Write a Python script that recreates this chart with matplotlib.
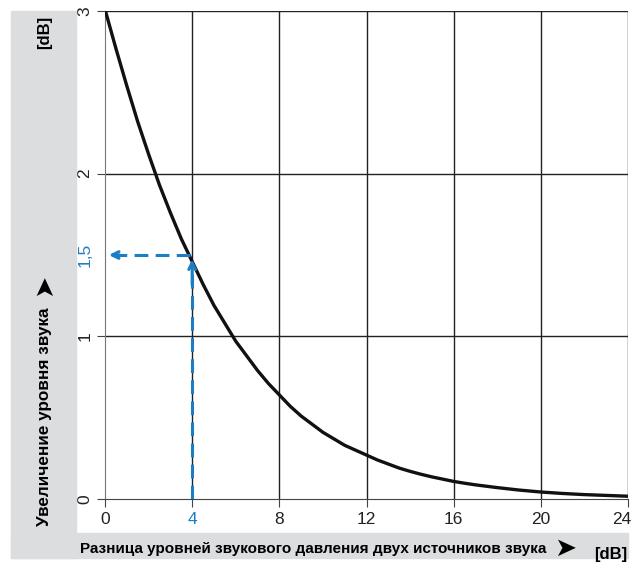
import matplotlib
matplotlib.use("Agg")
import matplotlib.pyplot as plt
from matplotlib.patches import Rectangle
from matplotlib.transforms import ScaledTranslation

# level difference [dB] and resulting level increase [dB]
diff_db = [0, 0.5, 1, 1.5, 2, 2.5, 3, 3.5, 4, 4.5, 5, 5.5, 6, 6.5, 7, 7.5, 8,
           8.5, 9, 9.5, 10, 10.5, 11, 11.5, 12, 12.5, 13, 13.5, 14, 14.5, 15,
           15.5, 16, 16.5, 17, 18, 19, 20, 21, 22, 23, 24]
increase_db = [3.01, 2.77, 2.54, 2.32, 2.12, 1.93, 1.76, 1.60, 1.46, 1.32, 1.19,
               1.08, 0.97, 0.88, 0.79, 0.71, 0.64, 0.57, 0.51, 0.46, 0.41, 0.37,
               0.33, 0.30, 0.27, 0.24, 0.215, 0.19, 0.17, 0.152, 0.136, 0.122,
               0.108, 0.097, 0.087, 0.07, 0.055, 0.043, 0.034, 0.027, 0.022, 0.017]
xticks = [0, 4, 8, 12, 16, 20, 24]
yticks = [0, 1, 1.5, 2, 3]
ytick_labels = ["0", "1", "1,5", "2", "3"]
mark_x, mark_y = 4, 1.5

plt.rcParams["font.family"] = ["Liberation Sans", "DejaVu Sans"]
blue = "#1b7ec4"
gray = "#dcdddf"

W, H = 636, 562
fig = plt.figure(figsize=(W / 100, H / 100), dpi=100)

# gray frame strips (left and bottom)
fig.patches.append(Rectangle((11 / W, 1 - 558 / H), 65 / W, 547 / H,
                             transform=fig.transFigure, color=gray, zorder=0))
fig.patches.append(Rectangle((11 / W, 1 - 558 / H), 617 / W, 25 / H,
                             transform=fig.transFigure, color=gray, zorder=0))

ax = fig.add_axes([105 / W, 63 / H, 523 / W, 488 / H])
ax.set_xlim(0, 24)
ax.set_ylim(0, 3)

for x in xticks[1:]:
    ax.axvline(x, color="#222222", lw=1.0, zorder=1)
for y in [1, 2, 3]:
    ax.axhline(y, color="#222222", lw=1.0, zorder=1)

ax.plot(diff_db, increase_db, color="#111111", lw=2.4, zorder=3,
        solid_capstyle="round", solid_joinstyle="round")

# dashed guide from x=4 up to the curve and across to the y axis
ax.plot([mark_x, mark_x], [0, mark_y - 0.05], color=blue, lw=2.2,
        dashes=(4.5, 2.4), zorder=4)
ax.plot([mark_x - 0.1, 0.3], [mark_y, mark_y], color=blue, lw=2.2,
        dashes=(4.5, 2.4), zorder=4)
ax.annotate("", xy=(mark_x, mark_y - 0.01), xytext=(mark_x, mark_y - 0.2),
            arrowprops=dict(arrowstyle="->", color=blue, lw=2.2,
                            mutation_scale=12), zorder=5)
ax.annotate("", xy=(0.05, mark_y), xytext=(0.8, mark_y),
            arrowprops=dict(arrowstyle="->", color=blue, lw=2.2,
                            mutation_scale=12), zorder=5)

for s in ["top", "right"]:
    ax.spines[s].set_visible(False)
ax.spines["left"].set_color("#777777")
ax.spines["bottom"].set_color("#444444")

ax.set_xticks(xticks)
ax.set_xticklabels([str(x) for x in xticks], fontsize=12.5)
ax.set_yticks(yticks)
ax.set_yticklabels(ytick_labels, fontsize=12.5, rotation=90, va="center")
ax.tick_params(axis="both", length=6, color="#444444", pad=3,
               labelcolor="#222222")
ax.get_xticklabels()[1].set_color(blue)
ax.get_yticklabels()[2].set_color(blue)
ax.yaxis.get_major_ticks()[2].tick1line.set_visible(False)
last = ax.get_xticklabels()[-1]
last.set_horizontalalignment("right")
last.set_transform(last.get_transform() + ScaledTranslation(3 / 100, 0, fig.dpi_scale_trans))

# axis captions
fig.text(45 / W, 1 - 417 / H, "Увеличение уровня звука", rotation=90,
         ha="center", va="center", fontsize=12.3, fontweight="bold")
fig.text(44 / W, 1 - 285 / H, "➤", rotation=90, ha="center", va="center",
         fontsize=19, family=["DejaVu Sans"])
fig.text(45 / W, 1 - 32 / H, "[dB]", rotation=90, ha="center", va="center",
         fontsize=12, fontweight="bold")
fig.text(80 / W, 1 - 549 / H, "Разница уровней звукового давления двух источников звука",
         ha="left", va="center", fontsize=11, fontweight="bold")
fig.text(565 / W, 1 - 549 / H, "➤", ha="center", va="center", fontsize=19,
         family=["DejaVu Sans"])
fig.text(611 / W, 1 - 555 / H, "[dB]", ha="center", va="center", fontsize=12,
         fontweight="bold")

fig.savefig("out.png", dpi=100)
